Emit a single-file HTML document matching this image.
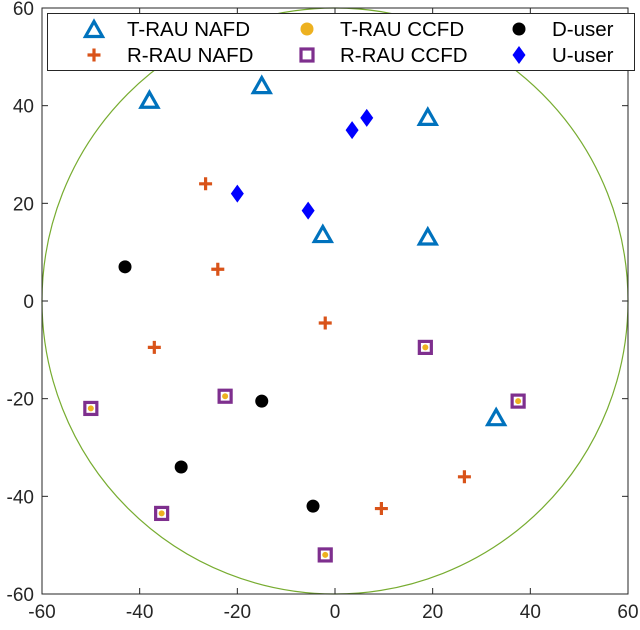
<!DOCTYPE html>
<html><head><meta charset="utf-8"><style>body{margin:0;background:#fff}svg{display:block;font-family:"Liberation Sans",sans-serif}</style></head>
<body>
<svg id="chart" width="640" height="630" viewBox="0 0 640 630"></svg>
<script>
const triX=[-38,-15,19,-2.5,19,33];
const triY=[41,44,37.5,13.5,13,-24];
const plusX=[-26.5,-24,-2,-37,26.5,9.5];
const plusY=[24,6.5,-4.5,-9.5,-36,-42.5];
const sqX=[18.5,-50,-22.5,37.5,-35.5,-2];
const sqY=[-9.5,-22,-19.5,-20.5,-43.5,-52];
const dX=[-43,-15,-31.5,-4.5];
const dY=[7,-20.5,-34,-42];
const uX=[-20,-5.5,3.5,6.5];
const uY=[22,18.5,35,37.5];
const ticks=[-60,-40,-20,0,20,40,60];
const radius=60;

const L=42,R=628,T=8,B=594;
const sx=v=>L+(v+60)/120*(R-L);
const sy=v=>B-(v+60)/120*(B-T);
const svg=document.getElementById('chart');
const NS='http://www.w3.org/2000/svg';
function mk(tag,attrs,parent){const e=document.createElementNS(NS,tag);for(const k in attrs)e.setAttribute(k,attrs[k]);(parent||svg).appendChild(e);return e;}

const circ=mk('circle',{cx:sx(0),cy:sy(0),r:sx(radius)-sx(0),fill:'none',stroke:'#77AC30','stroke-width':1.2});



const box=mk('rect',{x:L,y:T,width:R-L,height:B-T,fill:'none',stroke:'#262626','stroke-width':1});



ticks.forEach(t=>{
  mk('line',{x1:sx(t),x2:sx(t),y1:B,y2:B-6,stroke:'#262626'});
  mk('line',{x1:sx(t),x2:sx(t),y1:T,y2:T+6,stroke:'#262626'});
  mk('line',{x1:L,x2:L+6,y1:sy(t),y2:sy(t),stroke:'#262626'});
  mk('line',{x1:R,x2:R-6,y1:sy(t),y2:sy(t),stroke:'#262626'});
  const xl=mk('text',{x:sx(t),y:B+24,'text-anchor':'middle','font-size':19,fill:'#262626'});
  xl.textContent=t;
  
  
  const yl=mk('text',{x:L-8,y:sy(t)+7,'text-anchor':'end','font-size':19,fill:'#262626'});
  yl.textContent=t;
  
  
});

function tri(x,y,p){return mk('path',{d:`M${x},${y-8.5} L${x+8.5},${y+6.5} L${x-8.5},${y+6.5} Z`,fill:'none',stroke:'#0072BD','stroke-width':3.2,'stroke-linejoin':'miter'},p);}
function plus(x,y,p){return mk('path',{d:`M${x-6.5},${y} H${x+6.5} M${x},${y-6.5} V${y+6.5}`,stroke:'#D95319','stroke-width':3.2},p);}
function sq(x,y,p){const g=mk('g',{},p);mk('rect',{x:x-6,y:y-6,width:12,height:12,fill:'none',stroke:'#7E2F8E','stroke-width':3.2},g);mk('circle',{cx:x,cy:y,r:3,fill:'#EDB120'},g);return g;}
function dot(x,y,p,c){return mk('circle',{cx:x,cy:y,r:6.5,fill:c},p);}
function dia(x,y,p){return mk('path',{d:`M${x},${y-9} L${x+6.5},${y} L${x},${y+9} L${x-6.5},${y} Z`,fill:'#0000FF'},p);}

triX.forEach((v,i)=>{const e=tri(sx(v),sy(triY[i]));});
plusX.forEach((v,i)=>{const e=plus(sx(v),sy(plusY[i]));});
sqX.forEach((v,i)=>{const e=sq(sx(v),sy(sqY[i]));});
dX.forEach((v,i)=>{const e=dot(sx(v),sy(dY[i]),null,'#000');});
uX.forEach((v,i)=>{const e=dia(sx(v),sy(uY[i]));});

const lg=mk('g',{});


mk('rect',{x:47.5,y:13.5,width:587,height:57,fill:'#fff',stroke:'#262626','stroke-width':1},lg);
const entries=[
 ['T-RAU NAFD',94,29,'tri'],['T-RAU CCFD',307,29,'ydot'],['D-user',519,29,'dot'],
 ['R-RAU NAFD',94,55,'plus'],['R-RAU CCFD',307,55,'sq'],['U-user',519,55,'dia']];
entries.forEach(en=>{
  const g=mk('g',{},lg);
  
  
  const [lab,x,y,k]=en;
  if(k==='tri')tri(x,y+1,g);
  if(k==='plus')plus(x,y,g);
  if(k==='ydot')dot(x,y,g,'#EDB120');
  if(k==='sq')mk('rect',{x:x-6,y:y-6,width:12,height:12,fill:'none',stroke:'#7E2F8E','stroke-width':3.2},g);
  if(k==='dot')dot(x,y,g,'#000');
  if(k==='dia')dia(x,y,g);
  const t=mk('text',{x:x+33,y:y+7,'font-size':20.5,fill:'#000'},g);
  t.textContent=lab;
});
</script>
</body></html>
